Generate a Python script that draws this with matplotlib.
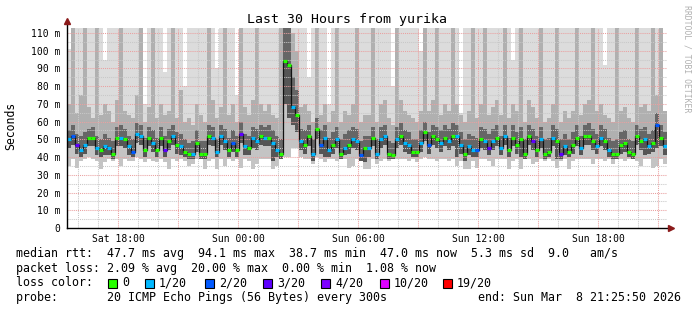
import numpy as np
import pandas as pd
import matplotlib
matplotlib.use('Agg')
import matplotlib.pyplot as plt
from matplotlib.patches import Rectangle

# ---------------- data ----------------
start_time = '2026-03-07 15:25:50'
end_time = '2026-03-08 21:25:50'
step_minutes = 12
x_tick_times = ['2026-03-07 18:00', '2026-03-08 00:00', '2026-03-08 06:00',
                '2026-03-08 12:00', '2026-03-08 18:00']
x_tick_labels = ['Sat 18:00', 'Sun 00:00', 'Sun 06:00', 'Sun 12:00', 'Sun 18:00']
y_ticks = [0, 10, 20, 30, 40, 50, 60, 70, 80, 90, 100, 110]
y_tick_labels = ['0', '10 m', '20 m', '30 m', '40 m', '50 m', '60 m', '70 m',
                 '80 m', '90 m', '100 m', '110 m']

# median rtt (ms)
median_rtt = [
    50, 52, 47, 44, 47, 51, 51, 45, 44, 46, 45, 42, 51, 51, 50, 46, 43, 53, 52, 44, 51, 48, 44, 51, 44,
    49, 52, 47, 46, 43, 42, 42, 48, 42, 42, 52, 51, 43, 52, 49, 44, 48, 44, 53, 46, 45, 51, 49, 52, 51,
    51, 48, 44, 42, 94, 92, 68, 64, 49, 47, 52, 42, 56, 47, 51, 44, 47, 50, 42, 45, 47, 50, 49, 41, 45,
    45, 51, 42, 50, 52, 42, 41, 50, 52, 48, 47, 43, 43, 48, 54, 47, 52, 50, 48, 51, 49, 52, 52, 47, 42,
    46, 44, 44, 50, 49, 45, 49, 51, 45, 52, 44, 51, 47, 50, 42, 52, 49, 44, 50, 42, 43, 51, 49, 42, 46,
    43, 47, 51, 45, 52, 52, 49, 46, 51, 49, 44, 42, 42, 47, 48, 43, 42, 52, 49, 50, 46, 48, 58, 51, 46,
]
# lost pings out of 20
lost_pings = [
    1, 2, 3, 1, 1, 0, 0, 1, 0, 1, 1, 0, 0, 1, 0, 1, 2, 1, 1, 0, 0, 1, 0, 0, 3,
    0, 1, 0, 1, 0, 0, 1, 0, 0, 0, 0, 1, 1, 1, 1, 0, 2, 0, 3, 1, 0, 1, 1, 0, 1,
    0, 1, 1, 0, 0, 0, 1, 0, 1, 0, 0, 1, 0, 2, 1, 1, 0, 1, 0, 1, 0, 1, 1, 2, 0,
    1, 0, 1, 1, 1, 0, 0, 1, 0, 1, 1, 0, 0, 1, 0, 2, 0, 0, 1, 0, 1, 0, 1, 1, 0,
    1, 1, 2, 0, 1, 3, 1, 0, 1, 1, 0, 0, 0, 0, 0, 0, 3, 0, 1, 0, 0, 1, 0, 3, 1,
    0, 0, 0, 1, 0, 0, 0, 1, 1, 0, 1, 0, 0, 0, 0, 0, 0, 0, 0, 1, 1, 0, 2, 0, 1,
]
# smoke: ping distribution per step (ms); 120 = beyond top of graph
ping_min = [
    35, 39, 34, 38, 39, 40, 39, 38, 33, 37, 39, 38, 39, 35, 39, 38, 38, 40, 39, 37, 39, 38, 37, 39, 37,
    33, 39, 38, 39, 38, 35, 36, 39, 39, 33, 38, 39, 33, 39, 35, 39, 38, 39, 34, 39, 38, 33, 36, 39, 39,
    39, 33, 35, 39, 40, 40, 45, 45, 40, 39, 39, 36, 40, 39, 37, 39, 39, 38, 39, 39, 34, 35, 39, 38, 33,
    33, 39, 36, 38, 39, 38, 39, 39, 39, 39, 38, 39, 37, 39, 40, 39, 39, 38, 39, 39, 38, 39, 35, 38, 33,
    33, 38, 34, 39, 39, 38, 35, 39, 39, 39, 33, 38, 39, 33, 39, 39, 36, 37, 39, 38, 39, 38, 34, 38, 39,
    33, 38, 39, 39, 39, 39, 36, 39, 39, 38, 39, 36, 39, 39, 38, 39, 39, 38, 35, 39, 39, 34, 35, 39, 36,
]
ping_p25 = [
    45, 47, 42, 40, 42, 46, 46, 41, 40, 41, 41, 39, 46, 46, 45, 41, 40, 48, 47, 40, 46, 43, 40, 46, 40,
    44, 47, 42, 41, 40, 39, 39, 43, 39, 39, 47, 46, 40, 47, 44, 40, 43, 40, 48, 41, 41, 45, 44, 47, 46,
    46, 38, 40, 39, 70, 62, 58, 54, 44, 42, 46, 38, 50, 42, 40, 40, 42, 45, 39, 41, 42, 45, 44, 38, 37,
    40, 46, 39, 45, 47, 39, 39, 45, 47, 43, 42, 40, 40, 43, 49, 42, 47, 45, 43, 46, 44, 46, 40, 42, 38,
    41, 40, 40, 45, 44, 41, 44, 46, 41, 47, 40, 46, 42, 40, 39, 47, 44, 40, 45, 39, 40, 46, 39, 39, 41,
    40, 42, 46, 41, 47, 47, 44, 42, 46, 44, 40, 39, 39, 42, 43, 40, 39, 47, 44, 41, 42, 43, 45, 46, 41,
]
ping_p75 = [
    55, 58, 53, 52, 54, 56, 57, 52, 50, 53, 51, 49, 57, 58, 56, 52, 50, 59, 58, 51, 57, 55, 51, 57, 52,
    56, 58, 54, 53, 50, 48, 49, 55, 49, 49, 58, 57, 50, 58, 56, 51, 55, 52, 60, 53, 52, 57, 56, 58, 57,
    58, 55, 52, 50, 120, 120, 85, 78, 56, 55, 58, 50, 62, 55, 58, 51, 54, 57, 50, 53, 55, 57, 56, 49, 52,
    52, 57, 50, 57, 58, 49, 48, 57, 59, 55, 54, 50, 50, 55, 60, 54, 58, 57, 55, 58, 56, 59, 58, 54, 50,
    53, 52, 51, 57, 56, 53, 56, 58, 52, 58, 51, 58, 54, 57, 50, 58, 56, 52, 57, 50, 51, 58, 56, 50, 53,
    50, 54, 58, 52, 58, 59, 56, 53, 58, 56, 51, 49, 50, 54, 55, 50, 49, 58, 56, 57, 53, 55, 65, 58, 54,
]
ping_p90 = [
    70, 120, 65, 75, 120, 68, 62, 120, 64, 70, 66, 60, 72, 120, 66, 64, 62, 75, 120, 60, 68, 120, 62, 70, 64,
    66, 120, 62, 78, 60, 62, 58, 70, 64, 60, 120, 72, 62, 68, 120, 64, 70, 60, 120, 68, 64, 72, 120, 70, 66,
    70, 64, 62, 120, 120, 120, 110, 100, 68, 70, 66, 60, 120, 64, 70, 60, 66, 120, 60, 66, 64, 70, 120, 60, 64,
    64, 120, 60, 70, 72, 62, 58, 120, 72, 66, 64, 62, 60, 66, 120, 66, 72, 120, 64, 70, 66, 120, 70, 64, 60,
    66, 120, 62, 70, 120, 64, 68, 72, 64, 120, 62, 70, 66, 120, 60, 72, 68, 62, 120, 60, 62, 70, 120, 60, 66,
    62, 66, 120, 64, 70, 72, 120, 66, 70, 64, 62, 60, 120, 66, 68, 62, 60, 120, 68, 70, 66, 120, 75, 120, 66,
]
ping_max = [
    101, 120, 120, 120, 120, 120, 120, 120, 120, 95, 120, 120, 120, 120, 120, 120, 120, 120, 120, 70, 120, 120, 120, 120, 88,
    120, 120, 120, 120, 80, 120, 120, 120, 120, 120, 120, 120, 90, 120, 120, 120, 120, 75, 120, 120, 120, 120, 120, 120, 120,
    120, 120, 120, 120, 120, 120, 120, 120, 120, 120, 85, 120, 120, 120, 120, 70, 120, 120, 120, 120, 120, 120, 120, 120, 120,
    120, 120, 120, 120, 120, 120, 80, 120, 120, 120, 120, 120, 120, 100, 120, 120, 120, 120, 120, 120, 120, 120, 120, 65, 120,
    120, 120, 120, 120, 120, 120, 120, 120, 120, 120, 120, 95, 120, 120, 120, 120, 120, 120, 120, 120, 120, 120, 120, 120, 120,
    120, 120, 120, 120, 120, 120, 120, 120, 120, 92, 120, 120, 120, 120, 120, 120, 120, 120, 120, 120, 120, 120, 120, 120, 66,
]
loss_levels = [0, 1, 2, 3, 4, 10, 19]
loss_colors = ['#26ff00', '#00b8ff', '#0059ff', '#5e00ff', '#7e00ff', '#dd00ff', '#ff0000']
loss_labels = ['0', '1/20', '2/20', '3/20', '4/20', '10/20', '19/20']

stats_line1 = 'median rtt:  47.7 ms avg  94.1 ms max  38.7 ms min  47.0 ms now  5.3 ms sd  9.0   am/s'
stats_line2 = 'packet loss: 2.09 % avg  20.00 % max  0.00 % min  1.08 % now'
probe_text = 'probe:       20 ICMP Echo Pings (56 Bytes) every 300s'
end_text = 'end: Sun Mar  8 21:25:50 2026'
title_text = 'Last 30 Hours from yurika'

# ---------------- figure ----------------
W, H = 697, 310
fig = plt.figure(figsize=(W / 100, H / 100), dpi=100)
fig.patch.set_facecolor('white')
L, R, T, B = 67, 667, 28, 228
ax = fig.add_axes([L / W, 1 - B / H, (R - L) / W, (B - T) / H])
ax.set_facecolor('white')

mono = 'DejaVu Sans Mono'
t0 = pd.Timestamp(start_time)
t_end = (pd.Timestamp(end_time) - t0) / pd.Timedelta(hours=1)
n = len(median_rtt)
step = step_minutes / 60.0
t = np.arange(n + 1) * step


def ext(a):
    a = np.asarray(a, dtype=float)
    return np.append(a, a[-1])

smoke = [
    (ping_p90, ping_max, '#dcdcdc'),
    (ping_p75, ping_p90, '#b0b0b0'),
    (median_rtt, ping_p75, '#666666'),
    (ping_p25, median_rtt, '#555555'),
    (ping_min, ping_p25, '#c4c4c4'),
]
for lo, hi, c in smoke:
    ax.fill_between(t, ext(lo), ext(hi), step='post', color=c, lw=0, zorder=1)

YMAX = 112.8
ax.set_xlim(0, t_end)
ax.set_ylim(0, YMAX)

# grid
hour0 = pd.Timestamp('2026-03-07 16:00')
for k in range(31):
    h = (hour0 + pd.Timedelta(hours=k) - t0) / pd.Timedelta(hours=1)
    if h >= t_end:
        break
    major = ((hour0 + pd.Timedelta(hours=k)).hour % 3 == 0)
    ax.axvline(h, color='#eaa0a0' if major else '#c8c8c8', lw=0.75,
               ls=(0, (1, 1)), zorder=2)
for v in range(5, 115, 5):
    major = (v % 10 == 0)
    ax.axhline(v, color='#eaa0a0' if major else '#c8c8c8', lw=0.75,
               ls=(0, (1, 1)), zorder=2)

# dark connectors between consecutive medians
ax.step(t, np.append(median_rtt, median_rtt[-1]), where='post', color='#111111',
        lw=0.9, zorder=3)

# median coloured by loss
cmap = {lv: c for lv, c in zip(loss_levels, loss_colors)}
cols = [cmap[min([lv for lv in loss_levels if lv >= p] or [19])] for p in lost_pings]
ax.hlines(median_rtt, t[:-1] + step * 0.1, t[1:] - step * 0.1, colors=cols, lw=2.3, zorder=4)

# axes
for s in ax.spines.values():
    s.set_visible(False)
ax.plot([0, 0], [0, YMAX * 1.03], color='black', lw=1, clip_on=False, zorder=5)
ax.plot([0, t_end * 1.004], [0, 0], color='black', lw=1, clip_on=False, zorder=5)
ax.plot([0], [YMAX * 1.035], marker='^', ms=4.5, color='#8b1a1a', clip_on=False, zorder=6)
ax.plot([t_end * 1.006], [0], marker='>', ms=4.5, color='#8b1a1a', clip_on=False, zorder=6)

tick_pos = [(pd.Timestamp(s) - t0) / pd.Timedelta(hours=1) for s in x_tick_times]
ax.set_xticks(tick_pos)
ax.set_xticklabels(x_tick_labels, fontfamily=mono, fontsize=7)
ax.set_yticks(y_ticks)
ax.set_yticklabels(y_tick_labels, fontfamily=mono, fontsize=7)
ax.tick_params(axis='x', length=0, pad=4)
ax.tick_params(axis='y', length=0, pad=5)

fig.text(11 / W, 1 - 126 / H, 'Seconds', rotation=90, ha='center', va='center',
         fontfamily=mono, fontsize=8.3)
fig.text(347 / W, 1 - 19 / H, title_text, ha='center', va='center',
         fontfamily=mono, fontsize=9.5)
fig.text(687 / W, 1 - 59 / H, 'RRDTOOL / TOBI OETIKER', rotation=-90, ha='center',
         va='center', fontfamily=mono, fontsize=5.9, color='#b0b0b0')

fs = 8.4
fig.text(16 / W, 1 - 254 / H, stats_line1, ha='left', va='center', fontfamily=mono, fontsize=fs)
fig.text(16 / W, 1 - 268.5 / H, stats_line2, ha='left', va='center', fontfamily=mono, fontsize=fs)
fig.text(16 / W, 1 - 283 / H, 'loss color:', ha='left', va='center', fontfamily=mono, fontsize=fs)
box_x = [108, 145, 205, 263, 321, 380, 443]
for bx, c, lab in zip(box_x, loss_colors, loss_labels):
    fig.patches.append(Rectangle((bx / W, 1 - 288 / H), 9 / W, 9 / H, transform=fig.transFigure,
                                 facecolor=c, edgecolor='black', lw=0.8))
    fig.text((bx + 14) / W, 1 - 283 / H, lab, ha='left', va='center', fontfamily=mono, fontsize=fs)
fig.text(16 / W, 1 - 297.5 / H, probe_text, ha='left', va='center', fontfamily=mono, fontsize=fs)
fig.text(681 / W, 1 - 297.5 / H, end_text, ha='right', va='center', fontfamily=mono, fontsize=fs)

fig.savefig('out.png', dpi=100, facecolor='white')
